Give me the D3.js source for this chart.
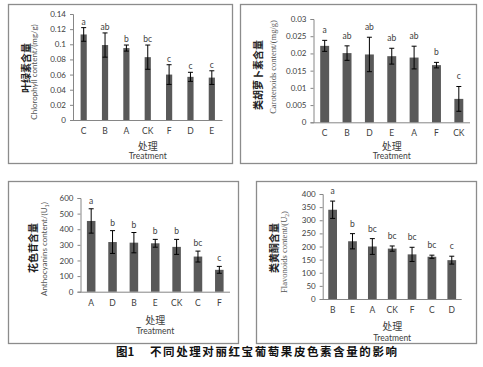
<!DOCTYPE html>
<html>
<head>
<meta charset="utf-8">
<script src="https://cdn.jsdelivr.net/npm/d3@7"></script>
<style>
body{margin:0;background:#fff;}
svg{display:block;}
</style>
</head>
<body>
<script>
// data
var cats1 = ["C","B","A","CK","F","D","E"];
var vals1 = [0.113,0.099,0.095,0.083,0.060,0.057,0.056];
var errs1 = [0.009,0.016,0.004,0.016,0.013,0.006,0.009];
var sig1  = ["a","ab","b","bc","c","c","c"];

var cats2 = ["C","B","D","E","A","F","CK"];
var vals2 = [0.0222,0.0201,0.0197,0.0192,0.0188,0.0166,0.0068];
var errs2 = [0.0016,0.0021,0.0050,0.0023,0.0033,0.0008,0.0036];
var sig2  = ["a","ab","ab","ab","ab","b","c"];

var cats3 = ["A","D","B","E","CK","C","F"];
var vals3 = [453,318,314,310,287,225,140];
var errs3 = [78,73,65,25,48,35,22];
var sig3  = ["a","b","b","b","b","bc","c"];

var cats4 = ["B","E","A","CK","F","C","D"];
var vals4 = [340,220,200,192,170,161,148];
var errs4 = [33,29,30,10,27,6,15];
var sig4  = ["a","b","bc","bc","bc","bc","c"];

var width = 483, height = 367;
var svg = d3.select("body").append("svg").attr("width", width).attr("height", height);

var latin = "Lato, 'Liberation Sans', sans-serif";
var cjk = "'Noto Sans CJK SC', sans-serif";

// panel frames
var frames = [[8,4,232,163],[240,4,476,163],[8,181,238,343],[256,181,476,343]];
frames.forEach(function(f){
    svg.append("rect").attr("x",f[0]+0.5).attr("y",f[1]+0.5)
       .attr("width",f[2]-f[0]).attr("height",f[3]-f[1])
       .attr("fill","none").attr("stroke","#8c8c8c").attr("stroke-width",1.3);
});

function panel(p){
    var g = svg.append("g");
    var x = d3.scaleBand().domain(p.cats).range([p.x0,p.x1]).paddingInner(p.pad).paddingOuter(p.pad/2);
    var y = d3.scaleLinear().domain([0,p.max]).range([p.y0,p.yTop]);
    var ticks = d3.range(0,p.max+p.step/2,p.step);

    // y axis
    var yAxis = d3.axisLeft(y).tickValues(ticks).tickSize(3).tickPadding(4)
        .tickFormat(function(d){return String(+d.toFixed(4));});
    var ya = g.append("g").attr("transform","translate("+p.x0+",0)").call(yAxis);
    ya.select(".domain").attr("stroke","#868686");
    ya.selectAll(".tick line").attr("stroke","#868686");
    ya.selectAll("text").attr("fill","#404040").style("font-family",latin).style("font-size","8px");

    // x axis
    var xAxis = d3.axisBottom(x).tickSize(0).tickPadding(8);
    var xa = g.append("g").attr("transform","translate(0,"+p.y0+")").call(xAxis);
    xa.select(".domain").attr("stroke","#868686").attr("d","M"+p.x0+",0.5H"+p.x1);
    xa.selectAll("text").attr("fill","#404040").style("font-family",latin).style("font-size","8.5px");

    // bars
    g.selectAll(".bar").data(p.vals).enter().append("rect")
        .attr("x",function(d,i){return x(p.cats[i]);})
        .attr("y",function(d){return y(d);})
        .attr("width",x.bandwidth())
        .attr("height",function(d){return p.y0-y(d);})
        .attr("fill","#595959");

    // error bars
    p.vals.forEach(function(v,i){
        var cx = x(p.cats[i])+x.bandwidth()/2;
        var t = y(v+p.errs[i]), b = y(v-p.errs[i]);
        g.append("line").attr("x1",cx).attr("x2",cx).attr("y1",t).attr("y2",b).attr("stroke","#000").attr("stroke-width",1);
        g.append("line").attr("x1",cx-2.5).attr("x2",cx+2.5).attr("y1",t).attr("y2",t).attr("stroke","#000").attr("stroke-width",1);
        g.append("line").attr("x1",cx-2.5).attr("x2",cx+2.5).attr("y1",b).attr("y2",b).attr("stroke","#000").attr("stroke-width",1);
        g.append("text").attr("x",cx).attr("y",t-p.gap).attr("text-anchor","middle")
            .attr("fill","#404040").style("font-family",latin).style("font-size","8.5px")
            .text(p.sig[i]);
    });

    var mid = (p.x0+p.x1)/2;
    g.append("text").attr("x",mid).attr("y",p.cnY).attr("text-anchor","middle").attr("dominant-baseline","central")
        .attr("fill","#404040").style("font-family",cjk).style("font-size","10px").text("处理");
    g.append("text").attr("x",mid).attr("y",p.trY).attr("text-anchor","middle").attr("dominant-baseline","central")
        .attr("fill","#404040").style("font-family",latin).style("font-size","8.5px").text("Treatment");

    // y titles
    g.append("text").attr("transform","translate("+p.cnX+","+p.cnC+") rotate(-90)")
        .attr("text-anchor","middle").attr("dominant-baseline","central")
        .attr("fill","#222").style("font-family",cjk).style("font-size","10px").style("font-weight","bold")
        .text(p.cnTitle);
    var en = g.append("text").attr("transform","translate("+p.enX+","+p.enC+") rotate(-90)")
        .attr("text-anchor","middle").attr("dominant-baseline","central")
        .attr("fill","#555").style("font-family",p.enFont).style("font-size",p.enSize+"px");
    en.append("tspan").text(p.enTitle);
    if(p.enSub){
        en.append("tspan").attr("baseline-shift","sub").style("font-size","5.5px").text(p.enSub);
        en.append("tspan").text(")");
    }
}

panel({cats:cats1,vals:vals1,errs:errs1,sig:sig1,max:0.14,step:0.02,pad:0.71,
    x0:73,x1:222.5,y0:120,yTop:14,gap:3,cnY:145,trY:156,
    cnTitle:"叶绿素含量",cnX:25,cnC:68,enTitle:"Chlorophyll content/(mg/g)",enSub:null,enX:34,enC:72,enFont:latin,enSize:8});
panel({cats:cats2,vals:vals2,errs:errs2,sig:sig2,max:0.03,step:0.005,pad:0.6,
    x0:313.5,x1:470,y0:122.3,yTop:19,gap:7,cnY:145,trY:156,
    cnTitle:"类胡萝卜素含量",cnX:257,cnC:75,enTitle:"Carotenoids content/(mg/g)",enSub:null,enX:273,enC:67,enFont:"'Liberation Serif', serif",enSize:8.5});
panel({cats:cats3,vals:vals3,errs:errs3,sig:sig3,max:600,step:100,pad:0.6,
    x0:80.5,x1:230,y0:291.7,yTop:198,gap:5,cnY:319,trY:330.7,
    cnTitle:"花色苷含量",cnX:32,cnC:248,enTitle:"Anthocyanins content/(U",enSub:"1",enX:44,enC:249,enFont:latin,enSize:8});
panel({cats:cats4,vals:vals4,errs:errs4,sig:sig4,max:400,step:50,pad:0.56,
    x0:322.7,x1:461.7,y0:299,yTop:194,gap:7,cnY:325,trY:337.7,
    cnTitle:"类黄酮含量",cnX:273,cnC:248,enTitle:"Flavonoids content/(U",enSub:"2",enX:284,enC:252,enFont:"'Liberation Serif', serif",enSize:8.5});

// caption
var cap = svg.append("text").attr("y",356).attr("fill","#111")
    .style("font-family",cjk).style("font-size","11.5px").style("font-weight","bold");
cap.append("tspan").attr("x",116).text("图1");
cap.append("tspan").attr("x",150).attr("textLength",247).text("不同处理对丽红宝葡萄果皮色素含量的影响");
</script>
</body>
</html>
